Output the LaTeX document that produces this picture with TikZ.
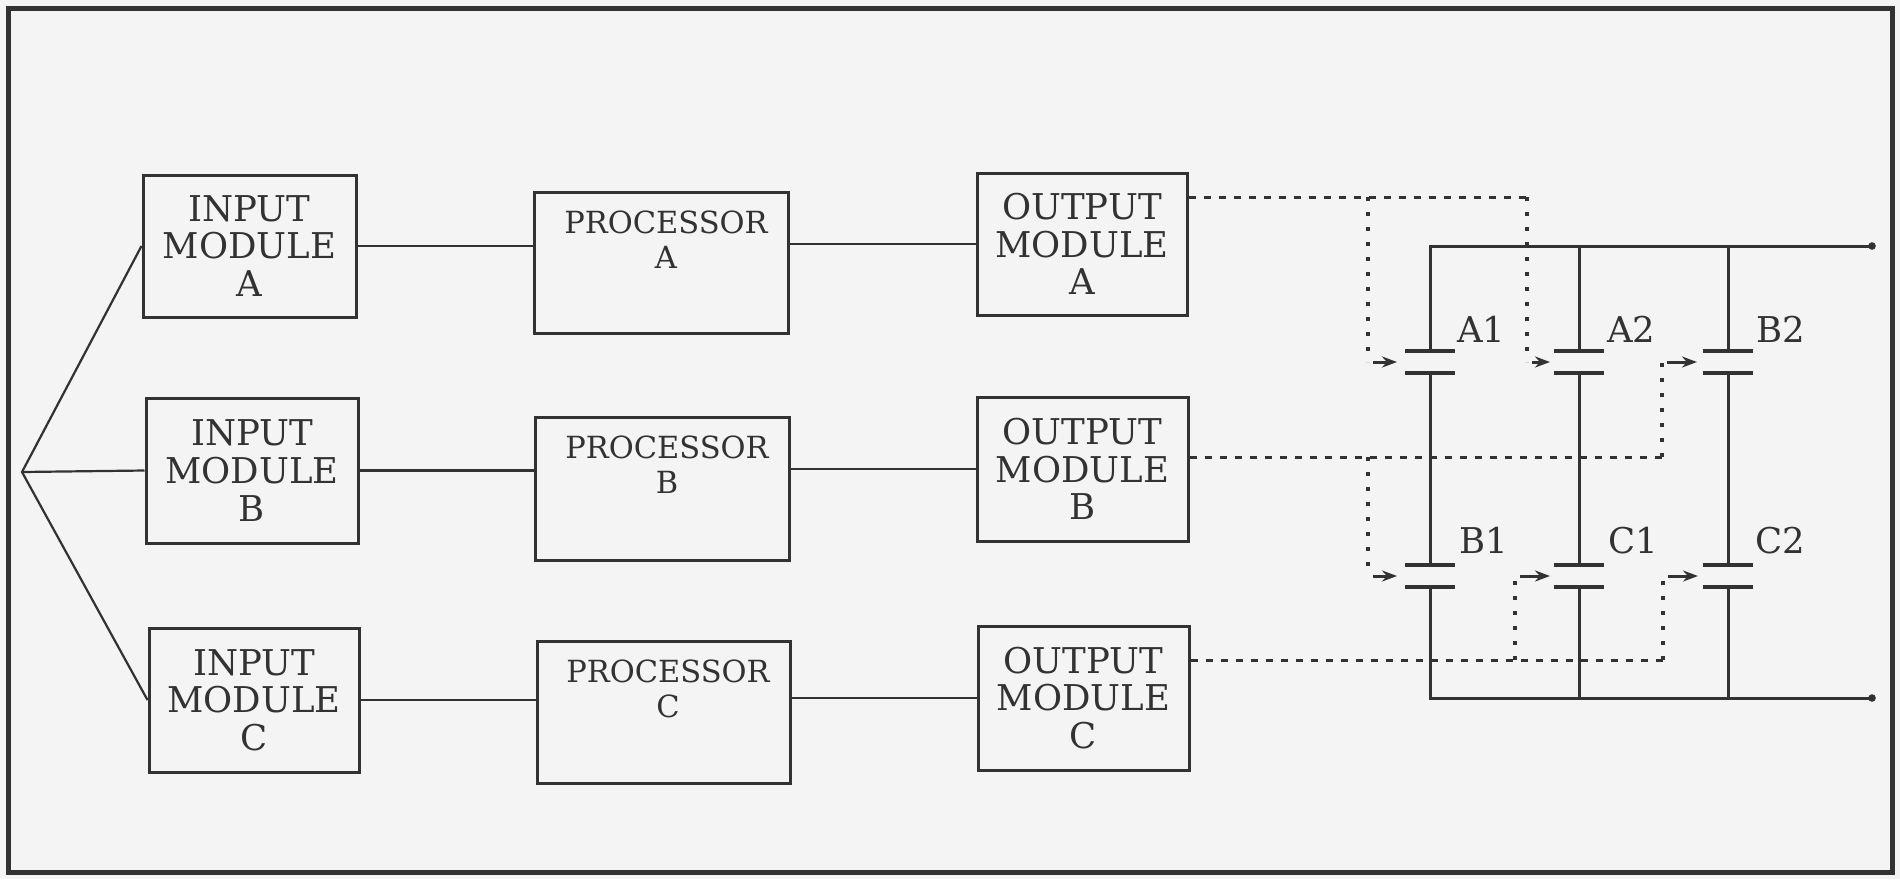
\documentclass[tikz,border=0pt]{standalone}
\usepackage{fontspec}
\setmainfont{DejaVu Serif}
\usetikzlibrary{arrows.meta,calc}
\definecolor{ink}{RGB}{50,50,50}
\definecolor{paper}{RGB}{244,244,244}
\newcommand\modfont{\fontsize{35.5}{37.7}\selectfont}
\newcommand\procfont{\fontsize{30.5}{35}\selectfont}
\begin{document}
\begin{tikzpicture}[x=1pt,y=-1pt,
  modbox/.style={draw=ink,line width=3pt,inner sep=0pt,align=center,font=\modfont,text=ink},
  procbox/.style={draw=ink,line width=3pt,inner sep=0pt},
  ptext/.style={inner sep=0pt,align=center,font=\procfont,text=ink,anchor=north},
  link/.style={draw=ink,line width=2.2pt},
  rail/.style={draw=ink,line width=3pt},
  plate/.style={draw=ink,line width=3.2pt},
  hdash/.style={draw=ink,line width=3pt,dash pattern=on 7pt off 8pt},
  vdash/.style={draw=ink,line width=3.4pt,dash pattern=on 4pt off 11pt},
  arr/.style={draw=ink,line width=3pt,-{Stealth[length=15pt,width=11pt]}},
  clabel/.style={inner sep=0pt,anchor=base west,font=\modfont,text=ink},
  contact/.pic={\draw[plate] (-25,-11) -- (25,-11); \draw[plate] (-25,11) -- (25,11);}
]
\fill[paper] (0,0) rectangle (1900,879);
\useasboundingbox (0,0) rectangle (1900,879);
\draw[ink,line width=5pt] (8,8) rectangle (1892,872);

% input modules
\node[modbox,minimum width=213pt,minimum height=142pt] (IA) at (249.5,246) {INPUT\\MODULE\\A};
\node[modbox,minimum width=212pt,minimum height=145pt] (IB) at (252,470.5) {INPUT\\MODULE\\B};
\node[modbox,minimum width=210pt,minimum height=144pt] (IC) at (254,700) {INPUT\\MODULE\\C};

% processors
\node[procbox,minimum width=254pt,minimum height=141pt] (PA) at (661,262.5) {};
\node[procbox,minimum width=254pt,minimum height=143pt] (PB) at (662,488.5) {};
\node[procbox,minimum width=253pt,minimum height=142pt] (PC) at (663.5,712) {};
\node[ptext] (PAt) at (666,211) {PROCESSOR\\A};
\node[ptext] (PBt) at (667,436) {PROCESSOR\\B};
\node[ptext] (PCt) at (668,660) {PROCESSOR\\C};

% output modules
\node[modbox,minimum width=210pt,minimum height=142pt] (OA) at (1082,244) {OUTPUT\\MODULE\\A};
\node[modbox,minimum width=211pt,minimum height=144pt] (OB) at (1082.5,469) {OUTPUT\\MODULE\\B};
\node[modbox,minimum width=211pt,minimum height=144pt] (OC) at (1083.5,698) {OUTPUT\\MODULE\\C};

% fan-out
\coordinate (F) at (22,472);
\draw[link] (IA.west) -- (F) -- (IC.west);
\draw[link] (F) -- (IB.west);

% horizontal links
\draw[link] (IA.east) -- (IA.east -| PA.west);
\draw[link] (OA.west -| PA.east) -- (OA.west);
\draw[link] (IB.east) -- (IB.east -| PB.west);
\draw[link] (OB.west -| PB.east) -- (OB.west);
\draw[link] (IC.east) -- (IC.east -| PC.west);
\draw[link] (OC.west -| PC.east) -- (OC.west);

% contacts
\coordinate (A1) at (1430,362);
\coordinate (A2) at (1579,362);
\coordinate (B2) at (1728,362);
\coordinate (B1) at (1430,576);
\coordinate (C1) at (1579,576);
\coordinate (C2) at (1728,576);
\foreach \c in {A1,A2,B2,B1,C1,C2} { \pic at (\c) {contact}; }
\coordinate (TR) at (1872,246);
\coordinate (BR) at (1872,698);

% rails and columns
\draw[rail] (TR) -- (TR -| A1) -- ($(A1)+(0,-11)$);
\draw[rail] (TR -| A2) -- ($(A2)+(0,-11)$);
\draw[rail] (TR -| B2) -- ($(B2)+(0,-11)$);
\draw[rail] ($(A1)+(0,11)$) -- ($(B1)+(0,-11)$);
\draw[rail] ($(A2)+(0,11)$) -- ($(C1)+(0,-11)$);
\draw[rail] ($(B2)+(0,11)$) -- ($(C2)+(0,-11)$);
\draw[rail] ($(B1)+(0,11)$) -- (BR -| B1) -- (BR);
\draw[rail] ($(C1)+(0,11)$) -- (BR -| C1);
\draw[rail] ($(C2)+(0,11)$) -- (BR -| C2);
\fill[ink] (TR) circle (3.8);
\fill[ink] (BR) circle (3.8);

% contact labels
\node[clabel] (lA1) at (1457,342) {A1};
\node[clabel] (lA2) at (1607,342) {A2};
\node[clabel] (lB2) at (1756,342) {B2};
\node[clabel] (lB1) at (1459,553) {B1};
\node[clabel] (lC1) at (1608,553) {C1};
\node[clabel] (lC2) at (1755,553) {C2};

% dashed control lines
\coordinate (ja) at (1527,197);
\coordinate (jb) at (1368,197);
\coordinate (kb) at (1662,457);
\coordinate (kc) at (1368,457);
\coordinate (mc) at (1663,660);
\coordinate (md) at (1515,660);

\draw[hdash] (OA.east |- ja) -- (ja);
\draw[vdash] (ja) -- (ja |- A2);
\draw[arr] ($(ja |- A2)+(5,0)$) -- ($(A2)+(-29,0)$);
\draw[vdash] (jb) -- (jb |- A1);
\draw[arr] ($(jb |- A1)+(5,0)$) -- ($(A1)+(-33,0)$);

\draw[hdash] (OB.east |- kb) -- (kb);
\draw[vdash] (kb) -- (kb |- B2);
\draw[arr] ($(kb |- B2)+(5,0)$) -- ($(B2)+(-31,0)$);
\draw[vdash] (kc) -- (kc |- B1);
\draw[arr] ($(kc |- B1)+(5,0)$) -- ($(B1)+(-33,0)$);

\draw[hdash] (OC.east |- mc) -- (mc);
\draw[vdash] (mc) -- (mc |- C2);
\draw[arr] ($(mc |- C2)+(5,0)$) -- ($(C2)+(-30,0)$);
\draw[vdash] (md) -- (md |- C1);
\draw[arr] ($(md |- C1)+(5,0)$) -- ($(C1)+(-29,0)$);
\end{tikzpicture}
\end{document}
